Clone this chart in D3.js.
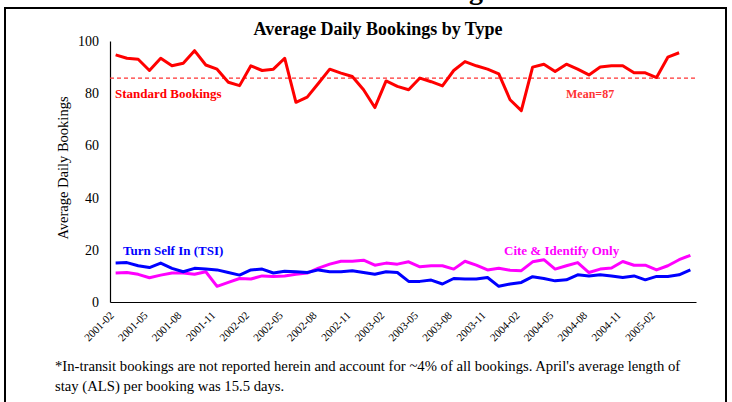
<!DOCTYPE html>
<html>
<head>
<meta charset="utf-8">
<script src="https://cdn.jsdelivr.net/npm/d3@7"></script>
<style>
  body { margin: 0; background: #fff; }
  text { font-family: "Liberation Serif", "Times New Roman", serif; }
</style>
</head>
<body>
<div id="chart"></div>
<script>
// months 2001-02 .. 2005-05
const months = d3.timeMonth.range(new Date(2001, 1, 1), new Date(2005, 5, 1)).map(d3.timeFormat("%Y-%m"));
const tickMonths = ["2001-02","2001-05","2001-08","2001-11","2002-02","2002-05","2002-08","2002-11",
  "2003-02","2003-05","2003-08","2003-11","2004-02","2004-05","2004-08","2004-11","2005-02"];

const standard = [94.7,93.4,93.0,88.7,93.4,90.5,91.5,96.3,90.8,89.2,84.2,82.9,90.5,88.7,89.2,93.4,
  76.5,78.5,83.8,89.2,87.7,86.4,81.3,74.5,84.7,82.6,81.3,85.8,84.4,82.8,88.7,92.1,90.5,89.2,87.4,
  77.5,73.3,90.0,91.1,88.3,91.1,89.2,87.0,90.0,90.5,90.5,87.8,87.8,86.0,93.8,95.5];
const tsi = [14.9,15.1,13.9,13.2,14.9,12.9,11.6,12.9,12.6,12.3,11.3,10.3,12.3,12.6,11.1,11.8,11.6,11.3,
  12.3,11.6,11.6,12.0,11.3,10.6,11.6,11.3,7.9,7.9,8.4,6.9,9.0,8.8,8.8,9.4,6.0,6.9,7.5,9.7,9.0,8.1,
  8.5,10.4,10.0,10.4,10.0,9.4,10.0,8.5,9.8,9.8,10.4,12.3];
const cite = [11.1,11.3,10.6,9.3,10.3,11.1,11.1,10.6,11.6,6.0,7.5,9.0,8.8,10.0,9.8,10.0,10.6,11.1,
  13.0,14.5,15.6,15.6,16.0,14.1,14.9,14.5,15.4,13.5,13.9,13.9,12.6,15.6,14.1,12.3,12.9,12.2,12.0,
  15.4,16.2,12.6,13.9,15.1,11.3,12.6,13.0,15.5,14.1,14.1,12.3,13.9,16.2,17.9];
const meanLine = 85.8;

const width = 732, height = 402;
const svg = d3.select("#chart").append("svg")
    .attr("width", width)
    .attr("height", height);

// frame
svg.append("rect")
    .attr("x", 5).attr("y", 8)
    .attr("width", 721).attr("height", 410)
    .attr("fill", "none").attr("stroke", "#000").attr("stroke-width", 2);

// clipped heading from the page above
svg.append("text")
    .attr("x", 494).attr("y", -1)
    .attr("text-anchor", "end")
    .attr("font-size", 28).attr("font-weight", "bold")
    .text("Bookings");

const x = d3.scaleBand().domain(months).range([110, 696]);
const y = d3.scaleLinear().domain([0, 100]).range([302, 41]);
const cx = d => x(d) + x.bandwidth() / 2;

svg.append("text")
    .attr("x", 378).attr("y", 35)
    .attr("text-anchor", "middle")
    .attr("font-size", 18).attr("font-weight", "bold")
    .text("Average Daily Bookings by Type");

// y axis
const yAxis = svg.append("g")
    .attr("transform", "translate(110,0)")
    .call(d3.axisLeft(y).tickValues([0,20,40,60,80,100]).tickSize(0).tickPadding(11));
yAxis.select(".domain").attr("stroke", "#000").attr("stroke-width", 1.2);
yAxis.selectAll("text").attr("font-size", 14).attr("font-family", "Liberation Serif").attr("fill", "#000");

svg.append("text")
    .attr("transform", "translate(68,168) rotate(-90)")
    .attr("text-anchor", "middle")
    .attr("font-size", 14.5)
    .text("Average Daily Bookings");

// x axis
const xAxis = svg.append("g")
    .attr("transform", "translate(0,302)")
    .call(d3.axisBottom(x).tickValues(tickMonths).tickSize(0).tickFormat(""));
xAxis.select(".domain").attr("stroke", "#000").attr("stroke-width", 1.2);

svg.selectAll(".xlab")
    .data(tickMonths)
    .enter().append("text")
    .attr("class", "xlab")
    .attr("transform", d => `translate(${cx(d) - 1},316) rotate(-45)`)
    .attr("text-anchor", "end")
    .attr("font-size", 11)
    .text(d => d);

// mean line
svg.append("line")
    .attr("x1", 110).attr("x2", 696)
    .attr("y1", y(meanLine)).attr("y2", y(meanLine))
    .attr("stroke", "#ff3333").attr("stroke-width", 1.2)
    .attr("stroke-dasharray", "4,3");

const line = d3.line()
    .x((d, i) => cx(months[i]))
    .y(d => y(d));

const series = [
  {values: cite, color: "#ff00ff"},
  {values: tsi, color: "#0000ff"},
  {values: standard, color: "#ff0000"}
];
svg.selectAll(".series")
    .data(series)
    .enter().append("path")
    .attr("class", "series")
    .attr("d", d => line(d.values))
    .attr("fill", "none")
    .attr("stroke", d => d.color)
    .attr("stroke-width", 3)
    .attr("stroke-linejoin", "round");

// labels
const labels = [
  {text: "Standard Bookings", x: 115, y: 98, color: "#ff0000", size: 13},
  {text: "Mean=87", x: 566, y: 98, color: "#ff3333", size: 12},
  {text: "Turn Self In (TSI)", x: 123, y: 255, color: "#0000ff", size: 13},
  {text: "Cite & Identify Only", x: 504, y: 255, color: "#ff00ff", size: 13}
];
svg.selectAll(".lab")
    .data(labels)
    .enter().append("text")
    .attr("class", "lab")
    .attr("x", d => d.x).attr("y", d => d.y)
    .attr("fill", d => d.color)
    .attr("font-size", d => d.size)
    .attr("font-weight", "bold")
    .text(d => d.text);

// footnote
const notes = ["*In-transit bookings are not reported herein and account for ~4% of all bookings. April's average length of",
  "stay (ALS) per booking was 15.5 days."];
svg.selectAll(".note")
    .data(notes)
    .enter().append("text")
    .attr("class", "note")
    .attr("x", 55).attr("y", (d, i) => 371 + i * 20)
    .attr("font-size", 14.7)
    .text(d => d);
</script>
</body>
</html>
